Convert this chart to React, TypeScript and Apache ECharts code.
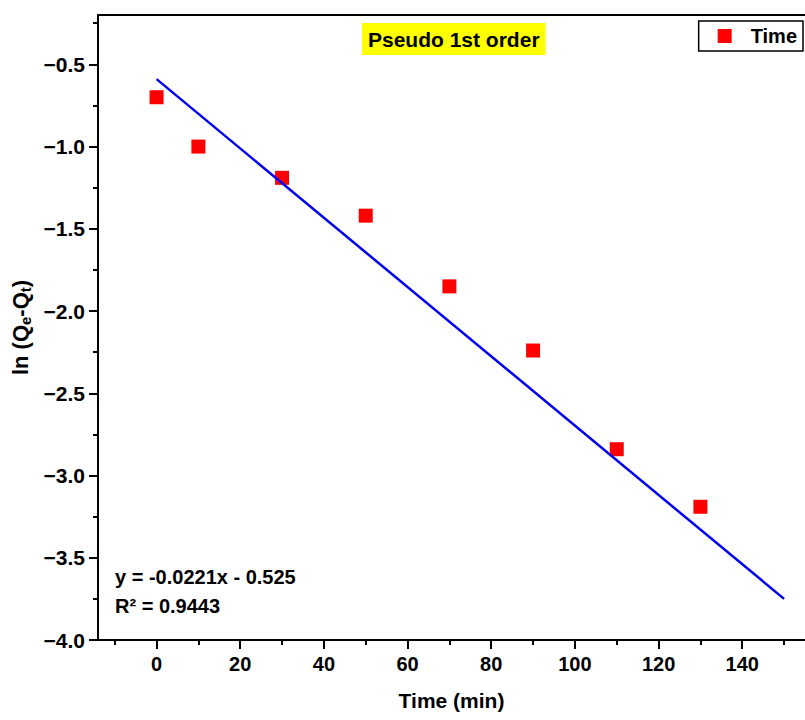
import React, { useEffect, useRef } from "react";
import * as echarts from "echarts";

const timeValues = [0, 10, 30, 50, 70, 90, 110, 130];
const lnValues = [-0.7, -1.0, -1.19, -1.42, -1.85, -2.24, -2.84, -3.19];
const fitLine = [
  [0, -0.59],
  [150, -3.75],
];
const xMajor = [0, 20, 40, 60, 80, 100, 120, 140];
const xMinor = [-10, 10, 30, 50, 70, 90, 110, 130, 150];
const yMajor = [-4, -3.5, -3, -2.5, -2, -1.5, -1, -0.5];
const yMinor = [-3.75, -3.25, -2.75, -2.25, -1.75, -1.25, -0.75, -0.25];
const equationLines = ["y = -0.0221x - 0.525", "R\u00b2 = 0.9443"];

const FONT = "'Liberation Sans', Arial, sans-serif";
const X_MIN = -14;
const X_MAX = 155;
const Y_MIN = -4;
const Y_MAX = -0.2;

export default function App() {
  const ref = useRef<HTMLDivElement>(null);
  useEffect(() => {
    if (!ref.current) return;
    const chart = echarts.init(ref.current, null, { renderer: "svg" });
    const gridRect = { left: 98, right: 0, top: 15, bottom: 80 };
    const lineStyle = { color: "#000", width: 2 };
    chart.setOption({
      animation: false,
      backgroundColor: "#fff",
      textStyle: { fontFamily: FONT },
      title: {
        text: "Pseudo 1st order",
        left: 362,
        top: 23,
        backgroundColor: "#ffff00",
        padding: [5, 6, 5, 6],
        textStyle: { fontSize: 21, fontWeight: "bold", color: "#000", fontFamily: FONT, lineHeight: 22 },
      },
      legend: {
        data: ["Time"],
        right: 2,
        top: 21,
        orient: "vertical",
        borderColor: "#000",
        borderWidth: 1.5,
        padding: [4, 6, 4, 19],
        itemWidth: 14,
        itemHeight: 14,
        icon: "rect",
        textStyle: {
          fontSize: 20,
          fontWeight: "bold",
          color: "#000",
          fontFamily: FONT,
          lineHeight: 22,
          padding: [0, 0, 0, 14],
        },
      },
      grid: [
        { ...gridRect, containLabel: false },
        { ...gridRect, containLabel: false },
      ],
      xAxis: [
        {
          type: "value",
          gridIndex: 0,
          min: X_MIN,
          max: X_MAX,
          position: "bottom",
          name: "Time (min)",
          nameLocation: "middle",
          nameGap: 50,
          nameTextStyle: { fontSize: 21, fontWeight: "bold", color: "#000", fontFamily: FONT },
          axisLine: { show: true, onZero: false, lineStyle },
          axisTick: { show: true, inside: false, length: 9, lineStyle, customValues: xMajor },
          axisLabel: {
            customValues: xMajor,
            margin: 14,
            fontSize: 20,
            fontWeight: "bold",
            color: "#000",
            fontFamily: FONT,
          },
          splitLine: { show: false },
        },
        {
          type: "value",
          gridIndex: 1,
          min: X_MIN,
          max: X_MAX,
          position: "bottom",
          axisLine: { show: false, onZero: false },
          axisTick: { show: true, inside: false, length: 5, lineStyle, customValues: xMinor },
          axisLabel: { show: false },
          splitLine: { show: false },
        },
        {
          type: "value",
          gridIndex: 1,
          min: X_MIN,
          max: X_MAX,
          position: "top",
          axisLine: { show: true, onZero: false, lineStyle },
          axisTick: { show: false },
          axisLabel: { show: false },
          splitLine: { show: false },
        },
      ],
      yAxis: [
        {
          type: "value",
          gridIndex: 0,
          min: Y_MIN,
          max: Y_MAX,
          position: "left",
          name: "{a|ln (Q}{s|e}{a|-Q}{s|t}{a|)}",
          nameLocation: "middle",
          nameGap: 62,
          nameTextStyle: {
            color: "#000",
            rich: {
              a: { fontSize: 22, fontWeight: "bold", color: "#000", fontFamily: FONT },
              s: {
                fontSize: 15,
                fontWeight: "bold",
                color: "#000",
                fontFamily: FONT,
                verticalAlign: "bottom",
                padding: [10, 0, 0, 0],
              },
            },
          },
          axisLine: { show: true, onZero: false, lineStyle },
          axisTick: { show: true, inside: false, length: 9, lineStyle, customValues: yMajor },
          axisLabel: {
            customValues: yMajor,
            margin: 13,
            fontSize: 21,
            fontWeight: "bold",
            color: "#000",
            fontFamily: FONT,
            formatter: (v: number) => v.toFixed(1).replace("-", "\u2212"),
          },
          splitLine: { show: false },
        },
        {
          type: "value",
          gridIndex: 1,
          min: Y_MIN,
          max: Y_MAX,
          position: "left",
          axisLine: { show: false, onZero: false },
          axisTick: { show: true, inside: false, length: 5, lineStyle, customValues: yMinor },
          axisLabel: { show: false },
          splitLine: { show: false },
        },
      ],
      graphic: equationLines.map((t, i) => ({
        type: "text",
        left: 115,
        top: 567 + i * 29,
        style: { text: t, fontSize: 20, fontWeight: "bold", fill: "#000", fontFamily: FONT },
      })),
      series: [
        {
          name: "Time",
          type: "scatter",
          xAxisIndex: 0,
          yAxisIndex: 0,
          symbol: "rect",
          symbolSize: 14,
          itemStyle: { color: "#ff0000", opacity: 1 },
          data: timeValues.map((t, i) => [t, lnValues[i]]),
          z: 2,
        },
        {
          name: "Fit",
          type: "line",
          xAxisIndex: 0,
          yAxisIndex: 0,
          showSymbol: false,
          symbol: "none",
          lineStyle: { color: "#0000ee", width: 2.5 },
          data: fitLine,
          z: 3,
        },
      ],
    });
    return () => chart.dispose();
  }, []);
  return (
    <div
      ref={ref}
      style={{ position: "fixed", left: 0, top: 0, width: 805, height: 720 }}
    />
  );
}
